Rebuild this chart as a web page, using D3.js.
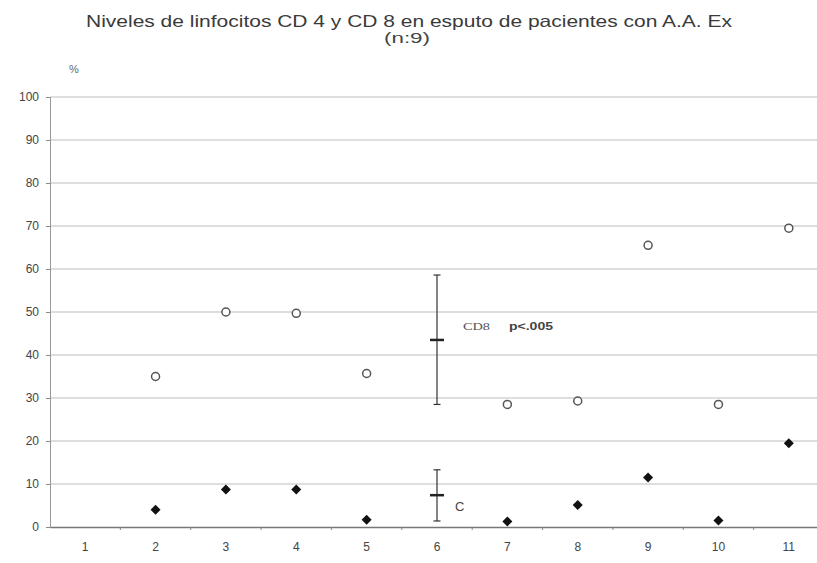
<!DOCTYPE html>
<html lang="es">
<head>
<meta charset="UTF-8">
<title>Niveles de linfocitos CD 4 y CD 8</title>
<style>
  body { margin: 0; background: #fff; }
  svg { display: block; font-family: "Liberation Sans", Arial, sans-serif; }
</style>
</head>
<body>
<svg id="chart" width="817" height="563"></svg>
<script src="https://d3js.org/d3.v7.min.js"></script>
<script>
// data
var categories = ["1", "2", "3", "4", "5", "6", "7", "8", "9", "10", "11"];
var cd8Cats = ["2", "3", "4", "5", "7", "8", "9", "10", "11"];
var cd8Values = [35, 50, 49.7, 35.7, 28.5, 29.3, 65.5, 28.5, 69.5];
var cd4Cats = ["2", "3", "4", "5", "7", "8", "9", "10", "11"];
var cd4Values = [4, 8.7, 8.7, 1.7, 1.3, 5.1, 11.5, 1.5, 19.5];
// mean and range shown at category 6
var summaryCat = "6";
var cd8Summary = { mean: 43.5, low: 28.5, high: 58.6 };
var cd4Summary = { mean: 7.4, low: 1.4, high: 13.3 };
var yTicks = [0, 10, 20, 30, 40, 50, 60, 70, 80, 90, 100];

var svg = d3.select("#chart");

var x = d3.scaleBand()
    .domain(categories)
    .range([50, 824])
    .padding(0);

var y = d3.scaleLinear()
    .domain([0, 100])
    .range([527, 97]);

function cx(c) { return x(c) + x.bandwidth() / 2; }

// title (the scanned original is a bit wider than the font, so stretch to fit)
svg.append("text")
    .attr("x", 86)
    .attr("y", 27)
    .attr("textLength", 646)
    .attr("lengthAdjust", "spacingAndGlyphs")
    .style("font-size", "16.5px")
    .style("fill", "#3a3a3a")
    .text("Niveles de linfocitos CD 4 y CD 8 en esputo de pacientes con A.A. Ex");

svg.append("text")
    .attr("x", 384)
    .attr("y", 43)
    .attr("textLength", 46)
    .attr("lengthAdjust", "spacingAndGlyphs")
    .style("font-size", "14px")
    .style("fill", "#444")
    .text("(n:9)");

svg.append("text")
    .attr("x", 69)
    .attr("y", 73)
    .style("font-size", "11px")
    .style("fill", "#666")
    .text("%");

// gridlines
svg.append("g")
    .selectAll("line")
    .data(yTicks.slice(1))
    .enter().append("line")
    .attr("x1", 50)
    .attr("x2", 817)
    .attr("y1", function(d) { return y(d); })
    .attr("y2", function(d) { return y(d); })
    .style("stroke", "#bdbdbd")
    .style("stroke-width", 1);

// y axis
var yAxis = svg.append("g")
    .attr("transform", "translate(50,0)")
    .call(d3.axisLeft(y).tickValues(yTicks).tickSize(4).tickPadding(7));
yAxis.select(".domain").style("stroke", "#999");
yAxis.selectAll(".tick line").style("stroke", "#888");
yAxis.selectAll("text")
    .style("font-size", "12px")
    .style("fill", "#444")
    .style("font-family", "'Liberation Sans', Arial, sans-serif");

// x axis
var xAxis = svg.append("g")
    .attr("transform", "translate(0," + y(0) + ")")
    .call(d3.axisBottom(x).tickSize(0).tickPadding(15));
xAxis.select(".domain").style("stroke", "#777").style("stroke-width", 1.5);
xAxis.selectAll("text")
    .style("font-size", "12px")
    .style("fill", "#444")
    .style("font-family", "'Liberation Sans', Arial, sans-serif");

// small ticks on the x axis between categories
svg.append("g")
    .selectAll("line")
    .data(categories.slice(1))
    .enter().append("line")
    .attr("x1", function(d) { return x(d); })
    .attr("x2", function(d) { return x(d); })
    .attr("y1", y(0))
    .attr("y2", y(0) + 3)
    .style("stroke", "#888");

// summary bars at category 6
function drawSummary(s) {
    var g = svg.append("g");
    var c = cx(summaryCat);
    g.append("line")
        .attr("x1", c).attr("x2", c)
        .attr("y1", y(s.low)).attr("y2", y(s.high))
        .style("stroke", "#333").style("stroke-width", 1.2);
    [s.low, s.high].forEach(function(v) {
        g.append("line")
            .attr("x1", c - 3.5).attr("x2", c + 3.5)
            .attr("y1", y(v)).attr("y2", y(v))
            .style("stroke", "#333").style("stroke-width", 1.2);
    });
    g.append("line")
        .attr("x1", c - 7).attr("x2", c + 7)
        .attr("y1", y(s.mean)).attr("y2", y(s.mean))
        .style("stroke", "#222").style("stroke-width", 2.5);
}
drawSummary(cd8Summary);
drawSummary(cd4Summary);

// CD8 open circles
svg.append("g")
    .selectAll("circle")
    .data(cd8Values)
    .enter().append("circle")
    .attr("cx", function(d, i) { return cx(cd8Cats[i]); })
    .attr("cy", function(d) { return y(d); })
    .attr("r", 4)
    .style("fill", "#fff")
    .style("stroke", "#555")
    .style("stroke-width", 1.5);

// CD4 filled diamonds
var diamond = d3.symbol().type(d3.symbolDiamond2).size(64);
svg.append("g")
    .selectAll("path")
    .data(cd4Values)
    .enter().append("path")
    .attr("d", diamond)
    .attr("transform", function(d, i) { return "translate(" + cx(cd4Cats[i]) + "," + y(d) + ")"; })
    .style("fill", "#111");

// annotations
svg.append("text")
    .attr("x", 463)
    .attr("y", y(cd8Summary.mean) - 10)
    .attr("textLength", 27)
    .attr("lengthAdjust", "spacingAndGlyphs")
    .style("font-size", "10px")
    .style("font-family", "'Liberation Serif', serif")
    .style("fill", "#555")
    .text("CD8");

svg.append("text")
    .attr("x", 509)
    .attr("y", y(cd8Summary.mean) - 10)
    .attr("textLength", 44)
    .attr("lengthAdjust", "spacingAndGlyphs")
    .style("font-size", "10px")
    .style("font-weight", "bold")
    .style("fill", "#444")
    .text("p<.005");

svg.append("text")
    .attr("x", 455)
    .attr("y", y(cd4Summary.mean) + 16)
    .style("font-size", "13px")
    .style("fill", "#444")
    .text("C");
</script>
</body>
</html>
